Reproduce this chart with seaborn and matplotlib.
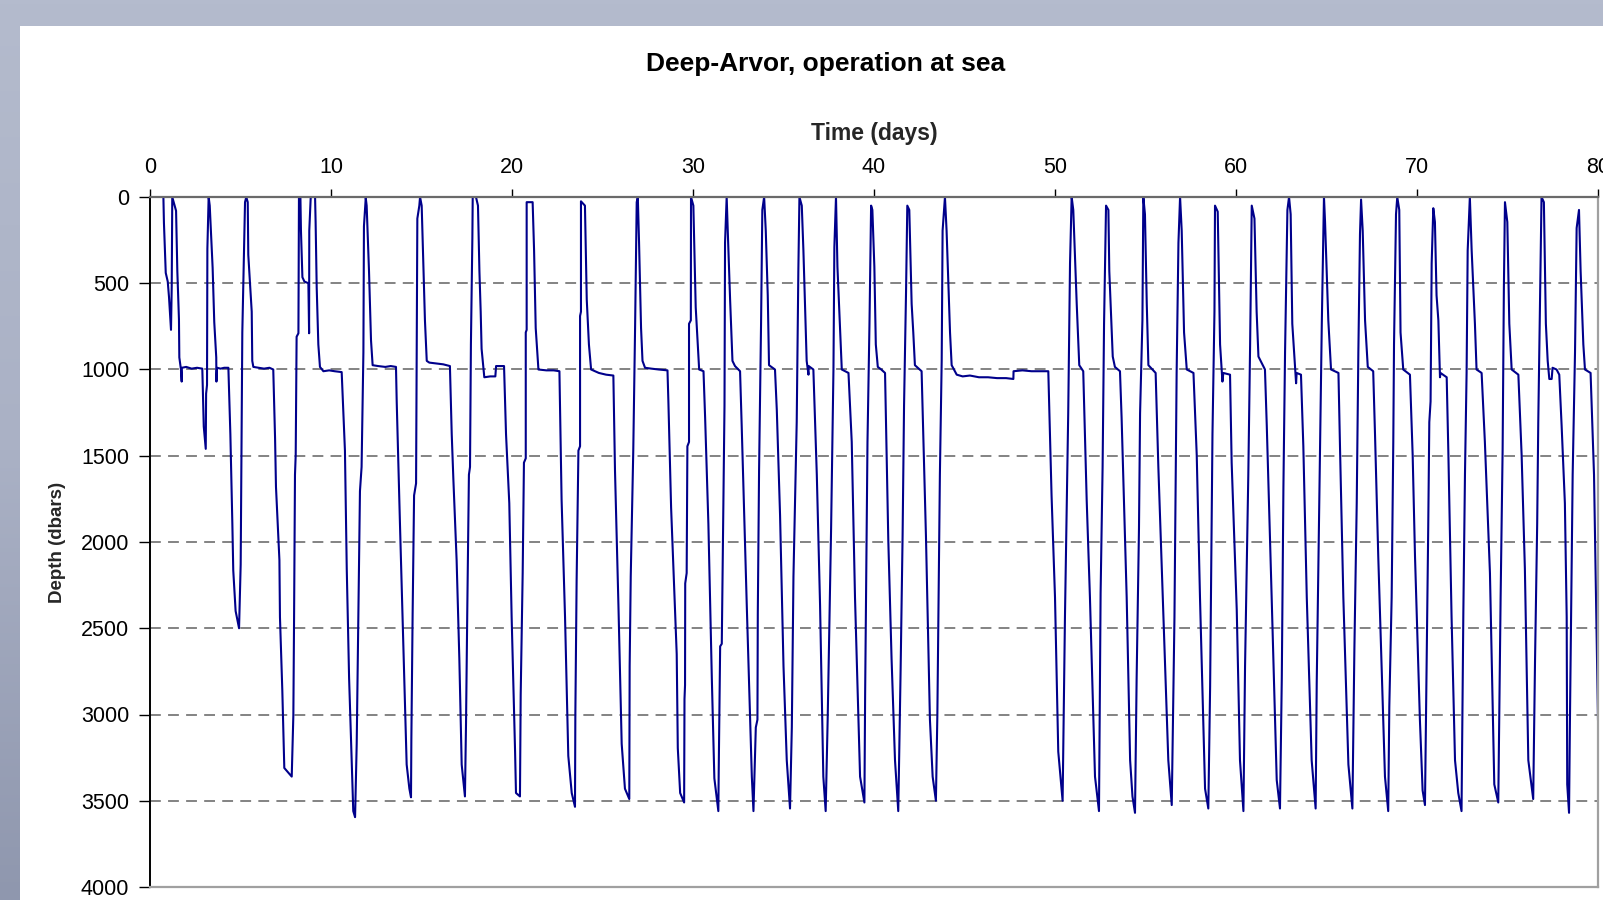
import numpy as np
import pandas as pd
import matplotlib
matplotlib.use("Agg")
import matplotlib.pyplot as plt
import seaborn as sns
from matplotlib.patches import Rectangle
from matplotlib.colors import LinearSegmentedColormap

# ---------------- data ----------------
time_days = [
    0.74, 0.77, 0.87, 0.98, 1.05, 1.16, 1.20, 1.23,
    1.44, 1.51, 1.60, 1.62, 1.71, 1.75, 1.76, 2.0, 2.3, 2.6, 2.89,
    2.97, 3.08, 3.10, 3.15, 3.17, 3.24,
    3.30, 3.46, 3.55, 3.66, 3.67, 3.70, 3.9, 4.1, 4.33,
    4.44, 4.55, 4.60, 4.73, 4.92,
    5.01, 5.06, 5.10, 5.19, 5.25, 5.32,
    5.40, 5.43, 5.62, 5.65, 5.71, 6.0, 6.3, 6.6, 6.81,
    6.91, 6.96, 7.15, 7.18, 7.31, 7.42, 7.83,
    7.92, 7.96, 8.01, 8.05, 8.10, 8.20, 8.23, 8.31,
    8.34, 8.42, 8.53, 8.75, 8.79, 8.80, 8.88, 9.12,
    9.15, 9.21, 9.30, 9.39, 9.58, 9.9, 10.2, 10.59,
    10.77, 10.87, 11.0, 11.14, 11.23, 11.33,
    11.42, 11.51, 11.60, 11.69, 11.79, 11.82, 11.92,
    11.97, 12.10, 12.21, 12.30, 12.6, 13.0, 13.3, 13.59,
    13.63, 13.81, 14.0, 14.18, 14.33, 14.42,
    14.44, 14.51, 14.59, 14.70, 14.73, 14.77, 14.88, 14.92,
    15.01, 15.10, 15.19, 15.29, 15.43, 15.8, 16.2, 16.57,
    16.67, 16.76, 16.94, 17.09, 17.22, 17.40,
    17.46, 17.53, 17.62, 17.68, 17.73, 17.81, 17.83, 18.01,
    18.12, 18.20, 18.27, 18.32, 18.47, 18.8, 19.08, 19.12, 19.56,
    19.67, 19.85, 19.98, 20.17, 20.22, 20.44,
    20.48, 20.59, 20.66, 20.76, 20.76, 20.81, 20.81, 21.14,
    21.22, 21.31, 21.46, 21.9, 22.3, 22.62,
    22.74, 22.93, 23.11, 23.30, 23.48,
    23.50, 23.57, 23.67, 23.76, 23.76, 23.81, 23.81, 24.03,
    24.13, 24.25, 24.37, 24.8, 25.2, 25.60,
    25.69, 25.88, 26.06, 26.24, 26.48,
    26.50, 26.56, 26.70, 26.80, 26.89, 26.95,
    27.02, 27.13, 27.21, 27.35, 27.7, 28.1, 28.59,
    28.64, 28.79, 29.10, 29.16, 29.29, 29.51,
    29.53, 29.56, 29.57, 29.65, 29.69, 29.78, 29.78, 29.88, 29.89, 30.02,
    30.15, 30.26, 30.34, 30.58,
    30.67, 30.85, 31.04, 31.18, 31.40,
    31.42, 31.50, 31.59, 31.68, 31.74, 31.77, 31.86,
    31.92, 32.05, 32.18, 32.32, 32.60,
    32.69, 32.97, 33.15, 33.25, 33.34,
    33.47, 33.56, 33.58, 33.65, 33.76, 33.83, 33.93,
    34.02, 34.13, 34.20, 34.53,
    34.63, 34.81, 35.00, 35.18, 35.36,
    35.46, 35.55, 35.73, 35.82, 35.88, 36.01,
    36.10, 36.28, 36.38, 36.39, 36.65,
    36.84, 37.02, 37.20, 37.33,
    37.44, 37.63, 37.76, 37.81, 37.90,
    37.98, 38.13, 38.22, 38.59,
    38.77, 38.95, 39.23, 39.47,
    39.51, 39.64, 39.75, 39.84, 39.91,
    40.02, 40.10, 40.21, 40.40, 40.61,
    40.79, 40.97, 41.16, 41.34,
    41.47, 41.58, 41.66, 41.77, 41.84, 41.95,
    42.08, 42.17, 42.26, 42.63,
    42.72, 42.87, 43.09, 43.24, 43.42,
    43.50, 43.64, 43.74, 43.79, 43.92,
    44.01, 44.20, 44.29, 44.57, 44.9, 45.3, 45.8, 46.3, 46.8, 47.3, 47.70,
    47.71, 48.2, 48.7, 49.2, 49.63,
    49.81, 50.0, 50.18, 50.42,
    50.55, 50.73, 50.83, 50.92, 51.01,
    51.20, 51.34, 51.56,
    51.75, 51.93, 52.21, 52.43,
    52.52, 52.63, 52.71, 52.82, 52.95,
    53.00, 53.19, 53.31, 53.59,
    53.68, 53.96, 54.15, 54.28, 54.42,
    54.51, 54.64, 54.70, 54.83, 54.88, 54.97,
    55.07, 55.16, 55.56,
    55.71, 55.99, 56.26, 56.45,
    56.60, 56.72, 56.82, 56.91, 57.0,
    57.13, 57.28, 57.65,
    57.83, 58.01, 58.29, 58.47,
    58.57, 58.70, 58.81, 58.84, 58.99,
    59.12, 59.25, 59.30, 59.67,
    59.76, 60.04, 60.22, 60.41,
    60.50, 60.68, 60.78, 60.87, 61.02,
    61.14, 61.24, 61.60,
    61.70, 61.97, 62.25, 62.43,
    62.53, 62.62, 62.71, 62.84, 62.93, 63.02,
    63.11, 63.26, 63.32, 63.35, 63.59,
    63.72, 63.91, 64.18, 64.40,
    64.46, 64.64, 64.74, 64.86, 64.92,
    65.10, 65.25, 65.66,
    65.75, 65.93, 66.21, 66.43,
    66.54, 66.67, 66.76, 66.85, 66.91, 67.0,
    67.13, 67.28, 67.58,
    67.68, 67.86, 68.10, 68.23, 68.41,
    68.47, 68.60, 68.69, 68.73, 68.84, 68.91, 69.02,
    69.09, 69.24, 69.61,
    69.76, 69.89, 70.16, 70.31, 70.44,
    70.53, 70.62, 70.68, 70.75, 70.81, 70.90, 70.99,
    71.08, 71.18, 71.27, 71.30, 71.64,
    71.73, 71.91, 72.10, 72.28, 72.46,
    72.56, 72.65, 72.74, 72.80, 72.92, 73.02,
    73.20, 73.29, 73.57,
    73.75, 74.03, 74.27, 74.49,
    74.62, 74.73, 74.80, 74.86, 74.99,
    75.10, 75.23, 75.60,
    75.78, 75.96, 76.15, 76.42,
    76.52, 76.64, 76.70, 76.79, 76.88, 77.01,
    77.12, 77.22, 77.31, 77.44, 77.49, 77.71, 77.86,
    77.99, 78.17, 78.27, 78.30, 78.40,
    78.45, 78.60, 78.73, 78.82, 78.95,
    79.04, 79.19, 79.28, 79.59,
    79.78, 80.0, 80.1,
]

depth_dbar = [
    0, 150, 440, 490, 580, 770, 520, 0,
    80, 430, 710, 930, 1000, 1070, 990, 985, 995, 990, 995,
    1330, 1460, 1140, 1090, 300, 0,
    50, 410, 725, 930, 1070, 990, 995, 990, 990,
    1375, 1895, 2165, 2400, 2500,
    2130, 1350, 785, 335, 30, 0,
    30, 335, 665, 950, 985, 990, 995, 990, 1000,
    1400, 1680, 2105, 2435, 2860, 3310, 3360,
    3005, 2435, 1610, 1495, 810, 790, 0, 0,
    195, 465, 490, 500, 790, 195, 0, 0,
    145, 525, 855, 985, 1010, 1005, 1010, 1015,
    1470, 2155, 2790, 3265, 3560, 3595,
    3170, 2415, 1705, 1565, 900, 170, 5,
    50, 430, 830, 975, 980, 985, 980, 985,
    1185, 1895, 2605, 3290, 3430, 3480,
    3140, 2415, 1730, 1660, 1000, 125, 50, 0,
    50, 385, 715, 950, 960, 965, 970, 980,
    1375, 1635, 2105, 2675, 3290, 3475,
    3050, 2390, 1610, 1565, 855, 240, 0, 0,
    50, 430, 665, 880, 1045, 1040, 1040, 980, 980,
    1375, 1775, 2435, 3215, 3455, 3475,
    2885, 2180, 1540, 1515, 785, 770, 30, 30,
    310, 760, 1000, 1005, 1005, 1010,
    1755, 2435, 3240, 3455, 3535,
    3000, 2225, 1470, 1445, 690, 665, 25, 50,
    595, 855, 1000, 1020, 1030, 1035,
    1585, 2365, 3170, 3430, 3490,
    2720, 2200, 1470, 760, 30, 0,
    265, 760, 950, 990, 995, 1000, 1005,
    1185, 1800, 2650, 3195, 3455, 3510,
    2910, 2830, 2240, 2180, 1445, 1420, 735, 715, 0, 50,
    640, 855, 1000, 1010,
    1280, 1895, 2790, 3370, 3560,
    3335, 2605, 2590, 1775, 1210, 265, 0,
    195, 595, 950, 980, 1010,
    1325, 2365, 3005, 3360, 3560,
    3075, 3030, 2415, 1585, 735, 75, 0,
    195, 570, 975, 1000,
    1235, 1845, 2720, 3265, 3545,
    3075, 2200, 1305, 430, 0, 50,
    310, 950, 1030, 980, 1000,
    1610, 2365, 3360, 3560,
    3030, 1920, 1000, 290, 0,
    405, 785, 1000, 1020,
    1420, 2320, 3360, 3510,
    2885, 1420, 735, 50, 75,
    405, 855, 985, 1000, 1020,
    1990, 2675, 3265, 3560,
    2745, 1965, 1210, 550, 50, 75,
    620, 785, 975, 1010,
    1375, 1965, 3030, 3360, 3500,
    3005, 1610, 950, 195, 0,
    195, 785, 975, 1030, 1040, 1035, 1045, 1045, 1050, 1050, 1055,
    1010, 1005, 1010, 1010, 1010,
    1730, 2320, 3215, 3500,
    2435, 1255, 385, 0, 75,
    620, 975, 1010,
    1755, 2320, 3360, 3560,
    2295, 1565, 735, 50, 75,
    430, 925, 985, 1010,
    1280, 2320, 3265, 3475, 3570,
    2790, 1920, 1255, 715, 0, 100,
    620, 975, 1020,
    1565, 2435, 3265, 3525,
    2435, 1020, 265, 0, 195,
    785, 1000, 1020,
    1495, 2320, 3430, 3545,
    2840, 1375, 665, 50, 85,
    855, 1070, 1020, 1030,
    1540, 2390, 3265, 3560,
    2720, 1610, 855, 50, 125,
    665, 925, 1000,
    1325, 2320, 3380, 3545,
    2790, 1680, 900, 75, 0, 100,
    735, 975, 1080, 1020, 1030,
    1445, 2320, 3265, 3545,
    2815, 1495, 735, 0, 145,
    715, 1000, 1020,
    1470, 2320, 3290, 3545,
    2625, 1775, 900, 215, 15, 195,
    715, 985, 1010,
    1375, 2085, 2910, 3360, 3560,
    2955, 2320, 1420, 855, 100, 0, 75,
    785, 1000, 1030,
    1495, 2085, 3030, 3440, 3525,
    2745, 1920, 1305, 1185, 385, 65, 145,
    570, 715, 1045, 1020, 1045,
    1470, 2435, 3265, 3455, 3560,
    2415, 1610, 1020, 310, 0, 310,
    735, 1000, 1020,
    1420, 2180, 3405, 3510,
    2320, 1470, 525, 30, 145,
    735, 1000, 1030,
    1495, 2155, 3265, 3490,
    2695, 1895, 1305, 640, 0, 30,
    735, 950, 1055, 1055, 990, 1000, 1030,
    1325, 1775, 2435, 3405, 3570,
    3030, 1610, 900, 180, 75,
    430, 855, 1000, 1020,
    1610, 3030, 3300,
]

x_ticks = [0, 10, 20, 30, 40, 50, 60, 70, 80]
y_ticks = [0, 500, 1000, 1500, 2000, 2500, 3000, 3500, 4000]

title_text = "Deep-Arvor, operation at sea"
x_label = "Time (days)"
y_label = "Depth (dbars)"

df = pd.DataFrame({"time": time_days, "depth": depth_dbar})

# ---------------- figure ----------------
sns.set_theme(style="white")
plt.rcParams["font.family"] = ["Liberation Sans", "DejaVu Sans"]

W, H = 1603, 900
fig = plt.figure(figsize=(W / 100, H / 100), dpi=100)

# slide-like background: grey-blue frame with a white panel
bg = fig.add_axes([0, 0, 1, 1], zorder=-10)
grad = np.linspace(0, 1, 256).reshape(-1, 1)
cmap = LinearSegmentedColormap.from_list("bg", ["#b4bbcd", "#aab1c5", "#8f97ae"])
bg.imshow(grad, aspect="auto", cmap=cmap, extent=[0, 1, 0, 1], origin="upper")
bg.set_axis_off()
fig.add_artist(Rectangle((20 / W, 0), 1 - 20 / W, (H - 26) / H,
                         transform=fig.transFigure, facecolor="white",
                         edgecolor="none", zorder=-5))

ax = fig.add_axes([150 / W, 1 - 887 / H, 1448 / W, 690 / H])
ax.set_facecolor("white")

sns.lineplot(data=df, x="time", y="depth", sort=False, estimator=None,
             color="#00008b", linewidth=1.5, ax=ax, legend=False)

ax.set_xlim(0, 80)
ax.set_ylim(4000, 0)
ax.set_xticks(x_ticks)
ax.set_yticks(y_ticks)
ax.set_xticklabels([str(t) for t in x_ticks])
ax.set_yticklabels([str(t) for t in y_ticks])

ax.xaxis.tick_top()
ax.xaxis.set_label_position("top")
ax.tick_params(axis="x", top=True, labeltop=True, bottom=False, labelbottom=False,
               direction="out", length=6, width=1, color="black",
               labelsize=15.5, pad=8, labelcolor="black")
ax.tick_params(axis="y", left=True, labelleft=True, right=False,
               direction="out", length=8, width=1, color="black",
               labelsize=15.5, pad=7, labelcolor="black")

ax.yaxis.grid(True, linestyle=(0, (6, 4)), color="#7a7a7a", linewidth=1.3)
ax.xaxis.grid(False)

ax.spines["top"].set_color("#6a6a6a")
ax.spines["top"].set_linewidth(1.6)
ax.spines["left"].set_color("black")
ax.spines["left"].set_linewidth(1.4)
ax.spines["bottom"].set_color("#a0a0a0")
ax.spines["bottom"].set_linewidth(1.6)
ax.spines["right"].set_color("#a0a0a0")
ax.spines["right"].set_linewidth(1.6)
for s in ax.spines.values():
    s.set_visible(True)

ax.set_xlabel(x_label, fontsize=16.5, fontweight="bold", va="center")
ax.xaxis.set_label_coords(0.5, (887 - 134) / 690)
ax.set_ylabel(y_label, fontsize=13.5, fontweight="bold", va="center")
ax.yaxis.set_label_coords((58 - 150) / 1448, 0.5)

fig.text(826 / W, 1 - 64 / H, title_text, ha="center", va="center",
         fontsize=19, fontweight="bold", color="black")

fig.savefig("out.png", dpi=100)
